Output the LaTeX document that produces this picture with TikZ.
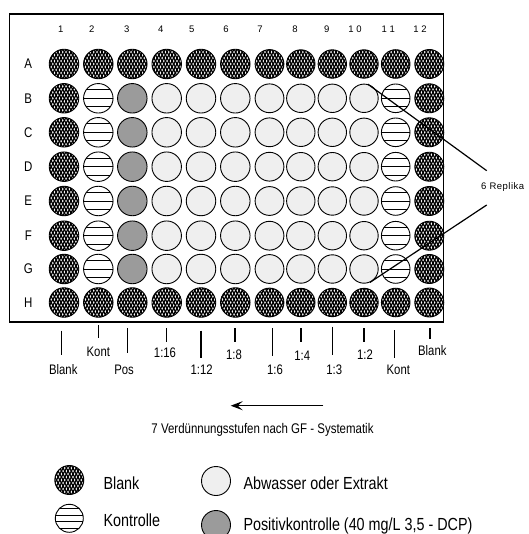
\documentclass[tikz,border=0pt]{standalone}
\usepackage{fontspec}
\setmainfont{Liberation Sans}
\newfontfamily\nar[FakeStretch=0.82]{Liberation Sans}
\newfontfamily\spc[LetterSpace=5]{Liberation Sans}
\usetikzlibrary{arrows.meta}
\definecolor{lightfill}{RGB}{239,239,239}
\definecolor{posfill}{RGB}{155,155,155}
\tikzset{
  well/.style={circle, draw=black, line width=0.9pt, inner sep=0pt, minimum size=29pt},
  lightwell/.style={well, fill=lightfill},
  poswell/.style={well, fill=posfill},
  ctrlwell/.style={well, fill=white, path picture={
      \foreach \o in {-8.5,0,8.5}{
        \draw[line width=0.8pt] ([xshift=-20pt,yshift=\o pt]path picture bounding box.center) -- ++(40pt,0pt);}}},
  ctrllegend/.style={well, fill=white, path picture={
      \foreach \o in {-9.75,-3.25,3.25,9.75}{
        \draw[line width=0.8pt] ([xshift=-20pt,yshift=\o pt]path picture bounding box.center) -- ++(40pt,0pt);}}},
  blankwell/.style={well, fill=white, path picture={
      \foreach \o in {-26,-22.7,...,26}{
        \draw[line width=1.25pt] ([xshift=\o pt-8.3pt,yshift=-15pt]path picture bounding box.center) -- ++(16.6pt,30pt);
        \draw[line width=1.25pt] ([xshift=\o pt+8.3pt,yshift=-15pt]path picture bounding box.center) -- ++(-16.6pt,30pt);}}},
  rowlab/.style={inner sep=0pt, font=\nar\fontsize{14}{16}\selectfont},
  collab/.style={inner sep=0pt, font=\fontsize{9.5}{11}\selectfont},
  botlab/.style={inner sep=0pt, font=\nar\fontsize{13.8}{16}\selectfont},
  leglab/.style={inner sep=0pt, anchor=base west, font=\nar\fontsize{17.5}{20}\selectfont},
  tick/.style={line width=1.5pt},
  pointer/.style={line width=1.2pt},
  frame/.style={draw=black, line width=1.8pt, inner sep=0pt, minimum width=434pt, minimum height=308pt},
}
\begin{document}
\begin{tikzpicture}[x=1pt, y=-1pt]
\useasboundingbox (0,0) rectangle (528,534);
% plate frame
\node[frame] (plate) at (226.5,168) {};
% wells
\foreach \r/\y [count=\ri] in {A/64,B/98.3,C/132.3,D/166.7,E/201,F/235.7,G/269,H/302.5}{
  \node[rowlab] (row\r) at (28.3,\y) {\r};
  \foreach \c/\x/\d in {1/64/29.5,2/98.3/29.5,3/132.3/29.5,4/166.7/29.5,5/201/29.5,6/235.3/29.5,
                        7/269.5/28.8,8/300.8/28.4,9/332.3/28.4,10/364/28.4,11/395.7/28.6,12/429.3/29}{
    \def\wstyle{lightwell}
    \ifnum\c=2 \def\wstyle{ctrlwell}\fi
    \ifnum\c=11 \def\wstyle{ctrlwell}\fi
    \ifnum\c=3 \def\wstyle{poswell}\fi
    \ifnum\c=1 \def\wstyle{blankwell}\fi
    \ifnum\c=12 \def\wstyle{blankwell}\fi
    \ifnum\ri=1 \def\wstyle{blankwell}\fi
    \ifnum\ri=8 \def\wstyle{blankwell}\fi
    \edef\mknode{\noexpand\node[\wstyle, minimum size=\d pt] (\r\c) at (\x,\y) {};}
    \mknode
  }
}
% column numbers
\foreach \n/\x/\t in {1/60.7/1,2/91.7/2,3/126.7/3,4/160.7/4,5/191.7/5,6/226/6,7/260/7,
                      8/295/8,9/326.7/9,10/355/1 0,11/388.3/1 1,12/420/1 2}{
  \node[collab] (col\n) at (\x,29.3) {\t};
}
% replicate pointers
\node[inner sep=0pt, anchor=west, font=\spc\fontsize{9.5}{11}\selectfont] (replika) at (481,186.7) {6 Replika};
\coordinate (rep1) at (486.7,170.7);
\coordinate (rep2) at (486.7,205);
\draw[pointer] (B10.75) -- (rep1);
\draw[pointer] (G10.-66) -- (rep2);
% bottom ticks and labels
\foreach \n/\x/\ya/\yb/\lx/\ly/\t in {
  1/61.7/330.7/355/63.3/369.3/Blank,
  2/98.3/325/338.3/98.3/351.7/Kont,
  3/127.3/328.3/353.3/124/370/Pos,
  4/166.7/328.3/341.7/165/352.7/1:16,
  5/201/330.7/358.3/201.7/370/1:12,
  6/235/328.3/342.3/234/355/1:8,
  7/272.7/328.3/356/275/370/1:6,
  8/301/328.3/342.3/302.3/355.7/1:4,
  9/332.7/326.7/355/334.3/370/1:3,
  10/364/328/342/365/355/1:2,
  11/394.3/330/358.3/398.3/370/Kont,
  12/430/328/339.3/432.3/350.7/Blank}{
  \coordinate (ta\n) at (\x,\ya);
  \coordinate (tb\n) at (\x,\yb);
  \draw[tick] (ta\n) -- (tb\n);
  \node[botlab] (lab\n) at (\lx,\ly) {\t};
}
% dilution arrow
\coordinate (arrS) at (323.3,405.7);
\coordinate (arrE) at (230.7,405.7);
\draw[line width=1.3pt, -{Stealth[length=12pt,width=9pt,inset=5pt]}] (arrS) -- (arrE);
\node[inner sep=0pt, anchor=base, font=\nar\fontsize{14}{16}\selectfont] (title) at (262.5,433.3) {7 Verdünnungsstufen nach GF - Systematik};
% legend
\node[blankwell] (legB) at (69.3,480) {};
\node[ctrllegend, minimum size=28pt] (legK) at (69.3,518.3) {};
\node[lightwell] (legA) at (216,481) {};
\node[poswell] (legP) at (216,525) {};
\node[leglab] (legBt) at (103.3,489.3) {Blank};
\node[leglab] (legKt) at (103.3,526.7) {Kontrolle};
\node[leglab] (legAt) at (243.3,489) {Abwasser oder Extrakt};
\node[leglab] (legPt) at (243.3,530) {Positivkontrolle (40 mg/L 3,5 - DCP)};
\end{tikzpicture}
\end{document}
